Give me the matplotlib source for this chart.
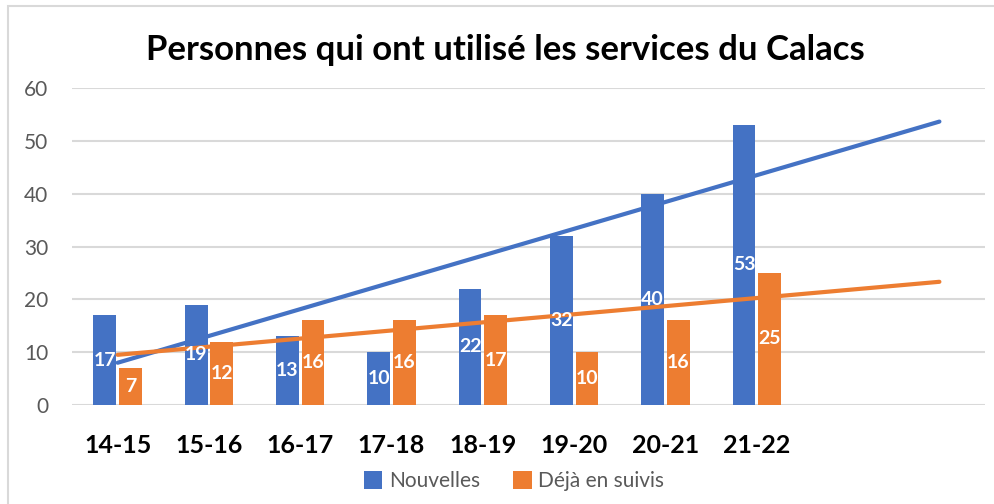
import numpy as np
import matplotlib.pyplot as plt
from matplotlib.patches import Rectangle

plt.rcParams['font.family'] = ['Lato', 'DejaVu Sans']

# Data
categories = ['14-15', '15-16', '16-17', '17-18', '18-19', '19-20', '20-21', '21-22']
nouvelles = [17, 19, 13, 10, 22, 32, 40, 53]
deja_suivis = [7, 12, 16, 16, 17, 10, 16, 25]
n_slots = 10  # axis has room for two forecast periods

blue = '#4472C4'
orange = '#ED7D31'
grid_col = '#D9D9D9'

fig = plt.figure(figsize=(9.94, 5.04), dpi=100)
ax = fig.add_axes([0.0724, 0.1964, 0.9186, 0.629])

x = np.arange(len(categories))
w = 0.25
off = 0.14
b1 = ax.bar(x - off, nouvelles, w, color=blue, label='Nouvelles', zorder=2)
b2 = ax.bar(x + off, deja_suivis, w, color=orange, label='Déjà en suivis', zorder=2)

for bars, vals in ((b1, nouvelles), (b2, deja_suivis)):
    for rect, v in zip(bars, vals):
        ax.text(rect.get_x() + rect.get_width() / 2, v / 2, str(v),
                ha='center', va='center', color='white', fontsize=14,
                fontweight='bold', zorder=4)

# Linear trendlines, forecast forward to the end of the axis
xt = np.arange(n_slots)
for vals, col in ((nouvelles, blue), (deja_suivis, orange)):
    k, c = np.polyfit(x, vals, 1)
    ax.plot(xt, k * xt + c, color=col, lw=3, solid_capstyle='round', zorder=3)

ax.set_xlim(-0.5, n_slots - 0.5)
ax.set_ylim(0, 60)
ax.set_yticks(range(0, 61, 10))
ax.set_xticks(x)
ax.set_xticklabels(categories, fontsize=18, fontweight='bold', color='black')
ax.tick_params(axis='x', length=0, pad=21)
ax.tick_params(axis='y', length=0, pad=17, labelsize=15, labelcolor='#595959')
ax.grid(axis='y', color=grid_col, lw=1.5, zorder=0)
for s in ax.spines.values():
    s.set_visible(False)

fig.text(0.508, 0.9, 'Personnes qui ont utilisé les services du Calacs',
         ha='center', va='center', fontsize=25, fontweight='bold')

fig.legend(loc='center', bbox_to_anchor=(0.517, 0.045), ncol=2, frameon=False,
           fontsize=15, labelcolor='#595959', handlelength=0.9, handleheight=0.9,
           handletextpad=0.3, columnspacing=1.6)

# chart border
fig.patches.append(Rectangle((8 / 994, -0.1), 1.2, 1.1 - 6 / 504, transform=fig.transFigure,
                             fill=False, edgecolor=grid_col, lw=1.5))

fig.savefig('out.png', dpi=100)
